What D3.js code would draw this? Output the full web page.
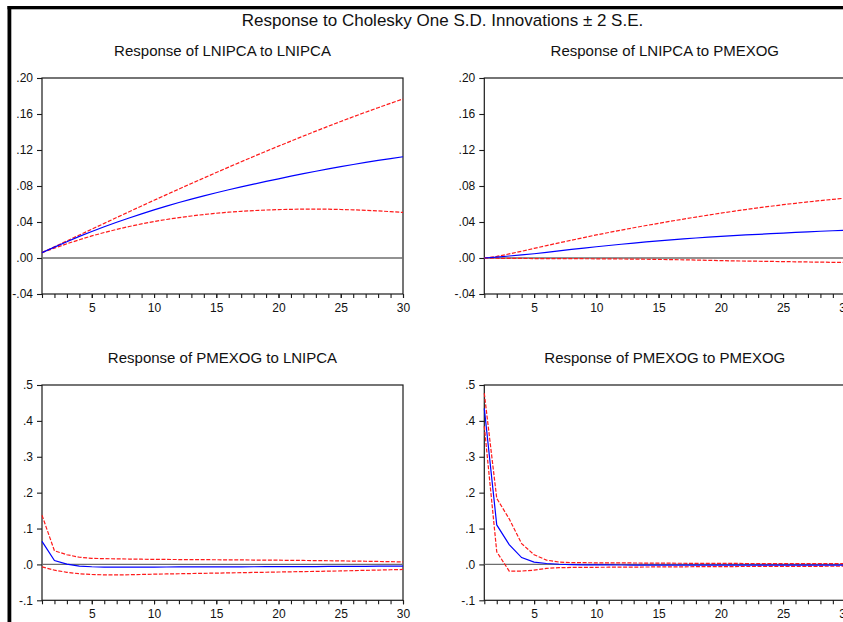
<!DOCTYPE html>
<html>
<head>
<meta charset="utf-8">
<script src="https://cdn.jsdelivr.net/npm/d3@7"></script>
<style>
  html, body { margin: 0; padding: 0; background: #fff; }
  svg text { font-family: "Liberation Sans", Arial, sans-serif; fill: #111; }
</style>
</head>
<body>
<div id="chart"></div>
<script>
// Impulse responses, periods 1..30
var periods = [1, 2, 3, 4, 5, 6, 7, 8, 9, 10, 11, 12, 13, 14, 15,
               16, 17, 18, 19, 20, 21, 22, 23, 24, 25, 26, 27, 28, 29, 30];
var xTickLabels = [5, 10, 15, 20, 25, 30];

var mainTitle = 'Response to Cholesky One S.D. Innovations \u00b1 2 S.E.';
var panelTitles = ['Response of LNIPCA to LNIPCA', 'Response of LNIPCA to PMEXOG',
                   'Response of PMEXOG to LNIPCA', 'Response of PMEXOG to PMEXOG'];

var topTicks = [-0.04, 0.00, 0.04, 0.08, 0.12, 0.16, 0.20];
var topTickLabels = ['-.04', '.00', '.04', '.08', '.12', '.16', '.20'];
var bottomTicks = [-0.1, 0.0, 0.1, 0.2, 0.3, 0.4, 0.5];
var bottomTickLabels = ['-.1', '.0', '.1', '.2', '.3', '.4', '.5'];

// LNIPCA -> LNIPCA
var lnLnResp  = [.0060, .0121, .0181, .0240, .0295, .0347, .0397, .0445, .0491, .0535,
                 .0577, .0617, .0655, .0691, .0725, .0758, .0790, .0821, .0851, .0880,
                 .0909, .0937, .0964, .0990, .1015, .1039, .1062, .1084, .1105, .1125];
var lnLnUpper = [.0060, .0125, .0190, .0255, .0320, .0385, .0450, .0514, .0578, .0641,
                 .0704, .0766, .0828, .0889, .0950, .1010, .1069, .1128, .1186, .1243,
                 .1299, .1355, .1410, .1464, .1517, .1569, .1620, .1670, .1719, .1767];
var lnLnLower = [.0060, .0110, .0158, .0203, .0245, .0283, .0318, .0350, .0379, .0405,
                 .0428, .0449, .0467, .0483, .0497, .0509, .0519, .0527, .0533, .0538,
                 .0541, .0543, .0543, .0542, .0539, .0535, .0530, .0523, .0515, .0506];

// LNIPCA -> PMEXOG
var lnPmResp  = [.0000, .0010, .0022, .0034, .0047, .0063, .0079, .0095, .0110, .0125,
                 .0139, .0153, .0166, .0179, .0191, .0202, .0212, .0222, .0231, .0240,
                 .0248, .0256, .0263, .0270, .0277, .0284, .0291, .0297, .0303, .0309];
var lnPmUpper = [.0000, .0018, .0045, .0075, .0107, .0138, .0168, .0198, .0227, .0256,
                 .0283, .0310, .0336, .0361, .0385, .0409, .0432, .0455, .0477, .0499,
                 .0519, .0538, .0557, .0575, .0592, .0608, .0623, .0638, .0652, .0665];
var lnPmLower = [.0000, -.0003, -.0004, -.0005, -.0006, -.0006, -.0007, -.0007, -.0008, -.0009,
                 -.0010, -.0011, -.0012, -.0014, -.0016, -.0018, -.0020, -.0023, -.0026, -.0029,
                 -.0032, -.0034, -.0036, -.0038, -.0040, -.0042, -.0044, -.0046, -.0048, -.0050];

// PMEXOG -> LNIPCA
var pmLnResp  = [.064, .011, .001, -.0045, -.0065, -.0073, -.0075, -.0075, -.0074, -.0073,
                 -.0072, -.0071, -.0070, -.0069, -.0068, -.0067, -.0066, -.0065, -.0064, -.0063,
                 -.0062, -.0060, -.0059, -.0057, -.0056, -.0054, -.0052, -.0050, -.0048, -.0046];
var pmLnUpper = [.137, .038, .027, .020, .017, .016, .0155, .0150, .0145, .0140,
                 .0138, .0136, .0134, .0132, .0130, .0128, .0125, .0122, .0120, .0117,
                 .0113, .0110, .0106, .0102, .0098, .0093, .0088, .0082, .0076, .0070];
var pmLnLower = [-.007, -.016, -.022, -.026, -.028, -.029, -.0292, -.0288, -.0280, -.0272,
                 -.0266, -.0260, -.0254, -.0248, -.0242, -.0236, -.0230, -.0224, -.0218, -.0212,
                 -.0206, -.0200, -.0194, -.0188, -.0182, -.0173, -.0165, -.0157, -.0149, -.0140];

// PMEXOG -> PMEXOG
var pmPmResp  = [.435, .110, .055, .019, .0065, .0025, .0005, -.0005, -.0010, -.0013,
                 -.0015, -.0016, -.0017, -.0018, -.0018, -.0019, -.0019, -.0020, -.0020, -.0020,
                 -.0020, -.0020, -.0020, -.0020, -.0020, -.0020, -.0020, -.0020, -.0020, -.0020];
var pmPmUpper = [.477, .184, .127, .058, .027, .012, .0065, .0052, .0048, .0045,
                 .0043, .0041, .0040, .0038, .0036, .0034, .0032, .0030, .0029, .0028,
                 .0027, .0026, .0025, .0024, .0023, .0022, .0021, .0020, .0020, .0020];
var pmPmLower = [.385, .035, -.0185, -.0185, -.016, -.011, -.009, -.0085, -.0082, -.0080,
                 -.0078, -.0076, -.0074, -.0072, -.0070, -.0068, -.0066, -.0064, -.0062, -.0060,
                 -.0059, -.0058, -.0057, -.0056, -.0055, -.0054, -.0053, -.0052, -.0051, -.0050];

var width = 843, height = 622;
var svg = d3.select('#chart').append('svg')
            .attr('width', width)
            .attr('height', height);

// Frame of the whole figure: thick black border on top and left
svg.append('rect').attr('x', 7.5).attr('y', 6).attr('width', width).attr('height', 3.3).attr('fill', '#000');
svg.append('rect').attr('x', 7.5).attr('y', 6).attr('width', 3.8).attr('height', height).attr('fill', '#000');

svg.append('text')
   .attr('x', 442.5).attr('y', 26)
   .attr('text-anchor', 'middle')
   .style('font-size', '17px')
   .text(mainTitle);

var plotW = 361;
var panels = [
  { left: 42,    top: 78,  bottom: 294,   title: panelTitles[0], ticks: topTicks, labels: topTickLabels,
    resp: lnLnResp, upper: lnLnUpper, lower: lnLnLower },
  { left: 484.3, top: 78,  bottom: 294,   title: panelTitles[1], ticks: topTicks, labels: topTickLabels,
    resp: lnPmResp, upper: lnPmUpper, lower: lnPmLower },
  { left: 42,    top: 385, bottom: 600.3, title: panelTitles[2], ticks: bottomTicks, labels: bottomTickLabels,
    resp: pmLnResp, upper: pmLnUpper, lower: pmLnLower },
  { left: 484.3, top: 385, bottom: 600.3, title: panelTitles[3], ticks: bottomTicks, labels: bottomTickLabels,
    resp: pmPmResp, upper: pmPmUpper, lower: pmPmLower }
];

panels.forEach(function(p) {
  var x = d3.scaleLinear().domain([1, 30]).range([p.left, p.left + plotW]);
  var y = d3.scaleLinear()
            .domain([p.ticks[0], p.ticks[p.ticks.length - 1]])
            .range([p.bottom, p.top]);
  var g = svg.append('g');

  // panel title
  g.append('text')
   .attr('x', p.left + plotW / 2).attr('y', p.top - 22)
   .attr('text-anchor', 'middle')
   .style('font-size', '15px')
   .text(p.title);

  // box
  g.append('rect')
   .attr('x', p.left).attr('y', p.top)
   .attr('width', plotW).attr('height', p.bottom - p.top)
   .attr('fill', 'none').attr('stroke', '#1a1a1a').attr('stroke-width', 1.2);

  // zero line
  g.append('line')
   .attr('x1', x(1)).attr('x2', x(30))
   .attr('y1', y(0)).attr('y2', y(0))
   .attr('stroke', '#6e6e6e').attr('stroke-width', 1.4);

  // y axis
  var labelFor = d3.scaleOrdinal().domain(p.ticks).range(p.labels);
  var yAxis = d3.axisLeft(y)
                .tickValues(p.ticks)
                .tickSize(5)
                .tickPadding(4)
                .tickFormat(function(d) { return labelFor(d); });
  g.append('g')
   .attr('transform', 'translate(' + p.left + ',0)')
   .call(yAxis);

  // x axis: minor tick at every period, labels every 5
  var xMinor = d3.axisBottom(x).tickValues(periods).tickSize(4).tickFormat('');
  var xMajor = d3.axisBottom(x).tickValues(xTickLabels).tickSize(4).tickPadding(5)
                 .tickFormat(d3.format('d'));
  g.append('g').attr('transform', 'translate(0,' + p.bottom + ')').call(xMinor);
  g.append('g').attr('transform', 'translate(0,' + p.bottom + ')').call(xMajor);

  g.selectAll('.domain').remove();
  g.selectAll('.tick line').attr('stroke', '#1a1a1a').attr('stroke-width', 1.1);
  g.selectAll('.tick text').style('font-size', '12px')
   .style('font-family', '"Liberation Sans", Arial, sans-serif').attr('fill', '#111');

  var line = d3.line()
               .x(function(d, i) { return x(periods[i]); })
               .y(function(d) { return y(d); });

  // +/- 2 S.E. bands, dashed red
  [p.upper, p.lower].forEach(function(s) {
    g.append('path')
     .attr('d', line(s))
     .attr('fill', 'none')
     .attr('stroke', '#ff1a1a')
     .attr('stroke-width', 1.2)
     .attr('stroke-dasharray', '4,1.6');
  });

  // response, solid blue
  g.append('path')
   .attr('d', line(p.resp))
   .attr('fill', 'none')
   .attr('stroke', '#0000ff')
   .attr('stroke-width', 1.2);
});
</script>
</body>
</html>
